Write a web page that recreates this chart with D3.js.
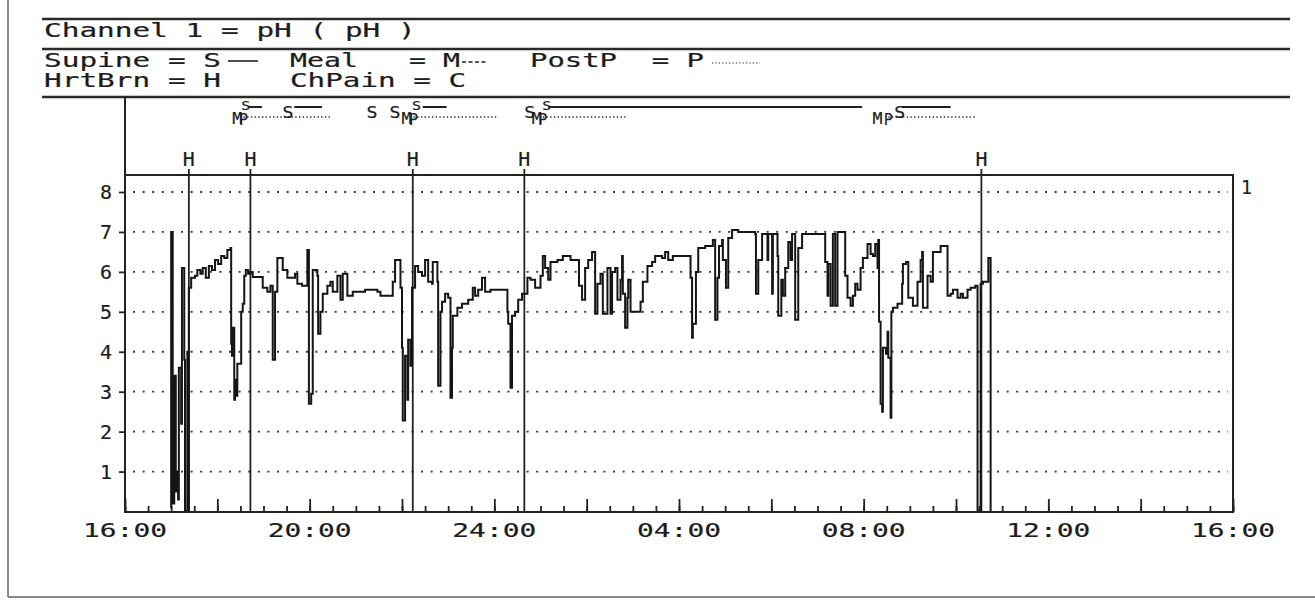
<!DOCTYPE html>
<html lang="en">
<head>
<meta charset="utf-8">
<title>Channel 1 pH</title>
<script src="https://cdn.jsdelivr.net/npm/d3@7"></script>
<style>
body { margin: 0; background: #fff; }
text { font-family: "DejaVu Sans Mono", "Liberation Mono", monospace; fill: #1c1c1c; stroke: #1c1c1c; stroke-width: 0.2; }
</style>
</head>
<body>
<script>
// pH trace, [minutes after 16:00, pH]
var phTrace = [
  [59,0.1],[60,7.0],[62,0.2],[64,3.4],[66,0.5],[68,1.0],[69,0.3],[70,3.6],[73,2.2],[74,6.1],[77,3.8],[78,0.0],[81,4.0],[82,0.0],
  [83,5.6],[86,5.85],[91,5.9],[94,6.05],[98,5.95],[101,6.1],[105,5.85],[109,6.15],[113,6.05],[117,6.3],[121,6.2],[125,6.4],
  [129,6.35],[133,6.55],[137,6.6],[138,4.2],[139,3.9],[140,4.6],[142,2.8],[143,3.3],[144,2.9],[146,3.7],[150,3.7],[151,5.0],
  [153,5.2],[155,5.9],[157,6.05],[160,5.95],[163,6.0],[166,5.87],[179,5.6],[185,5.5],[189,5.65],[192,3.8],[195,5.5],[198,6.35],
  [205,6.05],[211,5.85],[221,5.95],[224,5.7],[230,5.65],[237,6.55],[239,2.7],[242,2.95],[244,6.05],[250,5.9],[251,4.45],
  [254,5.0],[257,5.45],[263,5.65],[267,5.75],[270,5.5],[276,5.9],[280,5.3],[283,5.95],[289,5.4],[296,5.5],[312,5.55],
  [328,5.5],[332,5.4],[345,5.4],[348,5.75],[351,6.3],[358,5.6],[360,4.1],[361,2.28],[364,3.9],[367,2.8],[368,4.3],[371,3.65],
  [373,5.6],[377,6.15],[381,6.0],[386,5.9],[390,6.3],[394,5.75],[399,5.7],[400,6.25],[406,5.75],[407,3.15],[410,5.0],
  [412,5.25],[416,5.45],[420,5.35],[423,2.85],[425,4.1],[426,4.9],[432,5.1],[438,5.2],[446,5.3],[452,5.6],[455,5.4],
  [459,5.55],[464,5.85],[468,5.5],[475,5.55],[497,5.0],[498,4.7],[501,3.1],[503,4.9],[507,5.0],[511,5.3],[516,5.45],
  [523,5.85],[527,5.8],[533,5.6],[540,5.9],[543,6.4],[546,6.1],[550,5.8],[553,6.25],[562,6.3],[569,6.4],[579,6.3],
  [590,5.65],[594,5.3],[598,6.1],[602,6.3],[607,6.5],[611,4.95],[614,5.7],[618,5.95],[621,4.95],[627,6.1],[631,4.95],
  [633,6.0],[637,6.1],[640,5.3],[644,5.8],[646,6.4],[647,5.45],[650,4.6],[653,5.35],[654,5.8],[657,5.0],[670,5.25],
  [673,5.75],[679,6.15],[685,6.25],[689,6.4],[698,6.35],[702,6.5],[706,6.3],[712,6.4],[735,5.85],[737,4.35],[738,4.7],
  [742,6.0],[745,6.6],[754,6.65],[764,6.8],[767,4.8],[770,5.85],[772,6.65],[776,6.8],[777,6.3],[781,5.6],[784,6.85],
  [789,7.05],[797,7.0],[819,6.95],[820,5.45],[823,6.3],[828,6.95],[835,6.3],[836,6.95],[841,5.45],[842,6.95],[848,6.4],
  [849,4.9],[853,5.8],[855,5.4],[858,6.1],[862,6.75],[865,6.3],[867,6.95],[871,4.8],[875,6.6],[880,6.95],[910,6.25],
  [913,5.4],[914,6.2],[917,5.15],[920,6.95],[923,5.15],[926,7.0],[936,5.9],[939,5.35],[943,5.15],[946,5.4],[949,5.7],
  [952,5.55],[956,6.1],[959,6.35],[965,6.7],[969,6.45],[972,6.4],[975,6.7],[978,6.1],[979,6.8],[980,4.75],[982,2.7],
  [984,2.5],[985,4.1],[989,3.95],[991,4.5],[992,3.85],[995,2.35],[996,5.0],[998,5.1],[1004,5.2],[1010,5.7],[1011,6.2],
  [1015,6.25],[1018,5.35],[1024,5.15],[1030,5.75],[1034,6.3],[1036,6.5],[1037,5.1],[1043,5.9],[1047,5.75],[1050,6.5],
  [1060,6.65],[1069,5.4],[1073,5.45],[1076,5.55],[1082,5.35],[1086,5.45],[1089,5.35],[1095,5.55],[1099,5.6],[1105,5.65],
  [1108,0.0],[1112,5.7],[1115,5.75],[1122,6.35],[1125,0.0]
];

// events, minutes after 16:00
var heartburn = [83, 163, 374, 519, 1113];
var supineStarts = [157, 212, 321, 351, 379, 526, 548, 1007];
var supinePeriods = [[160, 178], [220, 256], [387, 418], [550, 958], [1010, 1073]];
var mealTimes = [146, 366, 535, 978];
var postpPeriods = [[154, 269], [375, 484], [543, 653], [992, 1105]];

var yTicks = [1, 2, 3, 4, 5, 6, 7, 8];
var xTickLabels = ["16:00", "20:00", "24:00", "04:00", "08:00", "12:00", "16:00"];

var w = 1315, h = 604;
var svg = d3.select("body").append("svg").attr("width", w).attr("height", h);

var x = d3.scaleLinear().domain([0, 1440]).range([125, 1233]);
var y = d3.scaleLinear().domain([0, 8]).range([511.5, 192]);

// wide monospace text like the printer font
function mono(str, x0, y0, size, cw, anchor) {
  return svg.append("text")
    .attr("x", x0).attr("y", y0)
    .attr("font-size", size)
    .attr("text-anchor", anchor || "start")
    .attr("textLength", str.length * cw)
    .attr("lengthAdjust", "spacingAndGlyphs")
    .attr("xml:space", "preserve")
    .text(str);
}

function rule(x1, y1, x2, y2, sw, col) {
  return svg.append("line")
    .attr("x1", x1).attr("y1", y1).attr("x2", x2).attr("y2", y2)
    .attr("stroke", col || "#222").attr("stroke-width", sw);
}

// page edge
rule(8, 0, 8, 597, 1.5, "#666");
rule(8, 597, w, 597, 2, "#888");

// header
[19, 49, 97].forEach(function(yy) { rule(42, yy, 1290, yy, 2.5, "#2a2a2a"); });
mono("Channel 1 = pH ( pH )", 44, 37, 19, 17.7);
mono("Supine = S", 44, 67, 19, 17.7);
mono("Meal   = M", 290, 67, 19, 17.0);
mono("PostP  = P", 530, 67, 19, 17.4);
mono("HrtBrn = H", 44, 87, 19, 17.7);
mono("ChPain = C", 290, 87, 19, 17.6);
rule(228, 61, 258, 61, 1.6);
rule(462, 62, 486, 62, 1.4).attr("stroke-dasharray", "4,2.5");
rule(712, 63, 760, 63, 1.2).attr("stroke-dasharray", "1.2,2.2");

// event strip
rule(125, 97, 125, 175, 2);
supinePeriods.forEach(function(p) { rule(x(p[0]), 107, x(p[1]), 107, 2); });
postpPeriods.forEach(function(p) { rule(x(p[0]), 117, x(p[1]), 117, 1.4).attr("stroke-dasharray", "1.3,2.4"); });
mealTimes.forEach(function(t) { mono("M", x(t), 124, 16, 10, "middle"); });
postpPeriods.forEach(function(p) { mono("P", x(p[0]), 125, 16, 9, "middle"); });
supineStarts.forEach(function(t) {
  var raised = mealTimes.some(function(m) { return t - m > 0 && t - m < 15; });
  mono("S", x(t), raised ? 110 : 118, raised ? 13 : 16, raised ? 9 : 11, "middle");
});

// grid
svg.append("g").selectAll("line").data(yTicks).enter().append("line")
  .attr("x1", 133).attr("x2", 1228)
  .attr("y1", function(d) { return y(d); }).attr("y2", function(d) { return y(d); })
  .attr("stroke", "#333").attr("stroke-width", 1.8)
  .attr("stroke-dasharray", "2,7.6");

// y axis
var gy = svg.append("g").attr("transform", "translate(125,0)")
  .call(d3.axisLeft(y).tickValues(yTicks).tickSize(6).tickFormat(""));
gy.select(".domain").remove();
gy.selectAll(".tick line").attr("stroke", "#222").attr("stroke-width", 1.8);
yTicks.forEach(function(v) { mono(String(v), 112, y(v) + 7, 20, 12, "end"); });

// x axis ticks, minor every 30 min and major every 2 h
var gx1 = svg.append("g").attr("transform", "translate(0,512)")
  .call(d3.axisBottom(x).tickValues(d3.range(0, 1441, 30)).tickSize(-6).tickFormat(""));
var gx2 = svg.append("g").attr("transform", "translate(0,512)")
  .call(d3.axisBottom(x).tickValues(d3.range(0, 1441, 120)).tickSize(-13).tickFormat(""));
[gx1, gx2].forEach(function(g) {
  g.select(".domain").remove();
  g.selectAll(".tick line").attr("stroke", "#222").attr("stroke-width", 1.8);
});
xTickLabels.forEach(function(lab, i) { mono(lab, x(i * 240), 537, 20, 16.8, "middle"); });

// heartburn markers
heartburn.forEach(function(t) {
  rule(x(t), 169, x(t), 512, 1.8);
  mono("H", x(t), 166, 19, 12, "middle");
});

// trace
var line = d3.line()
  .x(function(d) { return x(d[0]); })
  .y(function(d) { return y(d[1]); })
  .curve(d3.curveStepAfter);

svg.append("path").datum(phTrace)
  .attr("d", line)
  .attr("fill", "none")
  .attr("stroke", "#151515")
  .attr("stroke-width", 2)
  .attr("stroke-linejoin", "miter");

// plot frame
svg.append("rect")
  .attr("x", 125).attr("y", 175).attr("width", 1108).attr("height", 337)
  .attr("fill", "none").attr("stroke", "#222").attr("stroke-width", 2);
mono("1", 1241, 194, 19, 11);
</script>
</body>
</html>
